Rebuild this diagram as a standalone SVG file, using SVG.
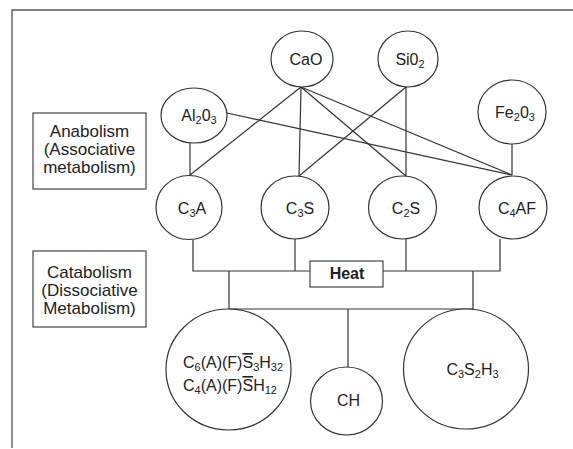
<svg xmlns="http://www.w3.org/2000/svg" width="573" height="449" viewBox="0 0 573 449">
<style>
text{font-family:"Liberation Sans",Arial,sans-serif;font-size:16px;fill:#222;}
.c{text-anchor:middle;}
.sub{font-size:11px;}
.lbl{font-size:17px;text-anchor:middle;}
.node{fill:#fff;stroke:#333;stroke-width:1.2;}
.box{fill:#fff;stroke:#444;stroke-width:1.2;}
.conn line,.conn polyline{stroke:#333;stroke-width:1.2;fill:none;}
.frame{stroke:#555;stroke-width:1.3;fill:none;}
.heat{font-weight:bold;text-anchor:middle;}
.ov{text-decoration:overline;}
</style>
<rect width="573" height="449" fill="#fff"/>
<polyline class="frame" points="12,448 12,10 573,10"/>

<g id="connectors" class="conn">
  <line x1="301" y1="87" x2="190" y2="175"/>
  <line x1="301" y1="87" x2="299" y2="176"/>
  <line x1="301" y1="87" x2="406" y2="176"/>
  <line x1="301" y1="87" x2="512" y2="175"/>
  <line x1="406" y1="87" x2="299" y2="176"/>
  <line x1="406" y1="87" x2="406" y2="176"/>
  <line x1="227" y1="113" x2="512" y2="175"/>
  <line x1="190" y1="143" x2="190" y2="175"/>
  <line x1="512" y1="144" x2="512" y2="175"/>
  <polyline points="193,240 193,271 310,271"/>
  <polyline points="383,271 500,271 500,239"/>
  <line x1="295" y1="239" x2="295" y2="271"/>
  <line x1="406" y1="239" x2="406" y2="271"/>
  <polyline points="229,271 229,309 473,309 473,271"/>
  <line x1="348" y1="309" x2="348" y2="367"/>
</g>

<g id="anabolism">
  <rect class="box" x="33" y="113" width="113" height="76"/>
  <text class="lbl" x="89.5" y="137">Anabolism</text>
  <text class="lbl" x="89.5" y="155">(Associative</text>
  <text class="lbl" x="89.5" y="173">metabolism)</text>
</g>
<g id="catabolism">
  <rect class="box" x="33" y="251" width="113" height="76"/>
  <text class="lbl" x="89.5" y="278">Catabolism</text>
  <text class="lbl" x="89.5" y="296">(Dissociative</text>
  <text class="lbl" x="89.5" y="314">Metabolism)</text>
</g>

<g id="cao">
  <ellipse class="node" cx="302" cy="59" rx="31" ry="28"/>
  <text class="c" x="306" y="65">CaO</text>
</g>
<g id="sio2">
  <ellipse class="node" cx="408" cy="59" rx="30" ry="28"/>
  <text class="c" x="410" y="65">Si0<tspan class="sub" dy="3">2</tspan></text>
</g>
<g id="al2o3">
  <ellipse class="node" cx="194" cy="115.5" rx="33" ry="27.5"/>
  <text class="c" x="199" y="121">Al<tspan class="sub" dy="3">2</tspan><tspan dy="-3">0</tspan><tspan class="sub" dy="3">3</tspan></text>
</g>
<g id="fe2o3">
  <ellipse class="node" cx="512" cy="112" rx="34" ry="32"/>
  <text class="c" x="515" y="118">Fe<tspan class="sub" dy="3">2</tspan><tspan dy="-3">0</tspan><tspan class="sub" dy="3">3</tspan></text>
</g>

<g id="c3a">
  <ellipse class="node" cx="189" cy="207.5" rx="33" ry="32"/>
  <text class="c" x="192" y="214">C<tspan class="sub" dy="3">3</tspan><tspan dy="-3">A</tspan></text>
</g>
<g id="c3s">
  <ellipse class="node" cx="295" cy="207.5" rx="34" ry="31.5"/>
  <text class="c" x="300" y="214">C<tspan class="sub" dy="3">3</tspan><tspan dy="-3">S</tspan></text>
</g>
<g id="c2s">
  <ellipse class="node" cx="402.5" cy="207.5" rx="34" ry="31.5"/>
  <text class="c" x="406" y="214">C<tspan class="sub" dy="3">2</tspan><tspan dy="-3">S</tspan></text>
</g>
<g id="c4af">
  <ellipse class="node" cx="513" cy="207.5" rx="34" ry="31.5"/>
  <text class="c" x="517" y="214">C<tspan class="sub" dy="3">4</tspan><tspan dy="-3">AF</tspan></text>
</g>

<g id="heat">
  <rect class="box" x="310" y="261" width="73" height="26"/>
  <text class="heat" x="347" y="279">Heat</text>
</g>

<g id="afm">
  <ellipse class="node" cx="228.5" cy="369.5" rx="62.5" ry="60.5"/>
  <text x="183" y="368">C<tspan class="sub" dy="3">6</tspan><tspan dy="-3">(A)(F)</tspan><tspan class="ov">S</tspan><tspan class="sub" dy="3">3</tspan><tspan dy="-3">H</tspan><tspan class="sub" dy="3">32</tspan></text>
  <text x="183" y="391">C<tspan class="sub" dy="3">4</tspan><tspan dy="-3">(A)(F)</tspan><tspan class="ov">S</tspan><tspan>H</tspan><tspan class="sub" dy="3">12</tspan></text>
</g>
<g id="ch">
  <ellipse class="node" cx="346.5" cy="401" rx="36" ry="34"/>
  <text class="c" x="348.5" y="406">CH</text>
</g>
<g id="csh">
  <ellipse class="node" cx="466" cy="369" rx="62.5" ry="60"/>
  <text class="c" x="472.5" y="375">C<tspan class="sub" dy="3">3</tspan><tspan dy="-3">S</tspan><tspan class="sub" dy="3">2</tspan><tspan dy="-3">H</tspan><tspan class="sub" dy="3">3</tspan></text>
</g>
</svg>
